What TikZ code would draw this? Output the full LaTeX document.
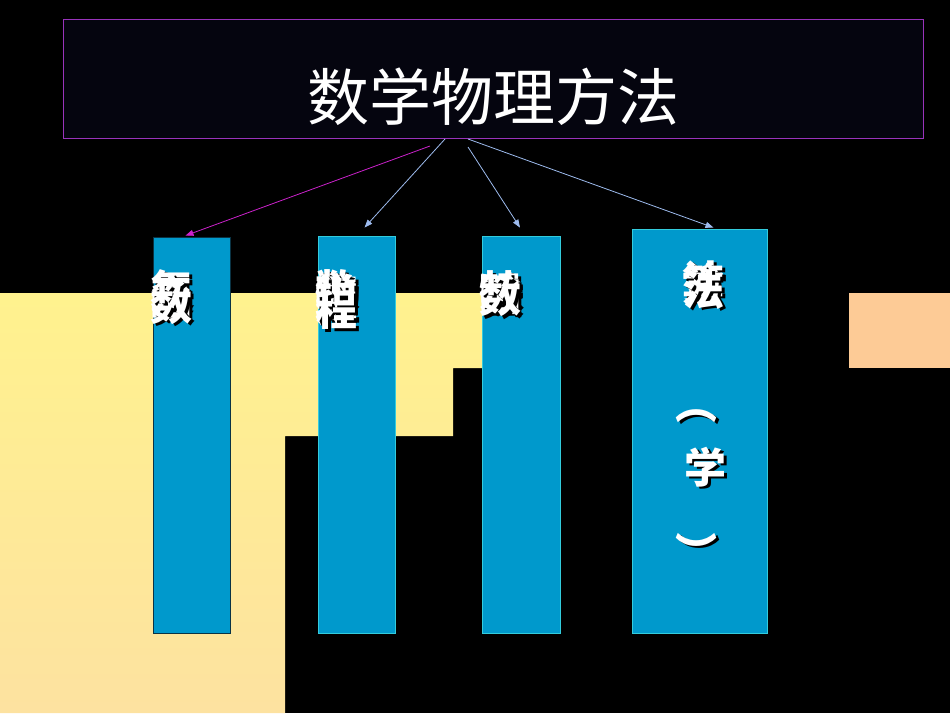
\documentclass[tikz,border=0pt]{standalone}
\usepackage{fontspec}
\newfontfamily\cjk{Noto Sans CJK SC}
\usetikzlibrary{arrows.meta,calc}
\definecolor{colblue}{HTML}{0099CC}
\definecolor{colcyan}{HTML}{33CCDD}
\definecolor{coldark}{HTML}{0A3344}
\definecolor{ylwA}{HTML}{FFF28E}
\definecolor{ylwB}{HTML}{FDE2A0}
\definecolor{peach}{HTML}{FDCB96}
\definecolor{boxfill}{HTML}{05050F}
\definecolor{boxline}{HTML}{9933BB}
\definecolor{arrmag}{HTML}{CC22CC}
\definecolor{arrblue}{HTML}{9DBBEE}
\newcommand\myshc[1]{\rlap{\kern3pt\raisebox{-2.5pt}{\textcolor{black}{#1}}}\textcolor{white}{#1}}
\newcommand\mytight{\lineskiplimit=-1000pt\relax\lineskip=0pt\relax}
\begin{document}
\begin{tikzpicture}[x=1pt,y=-1pt,
  colbox/.style={draw=colcyan,fill=colblue,line width=0.8pt,inner sep=0pt},
  stack/.style={inner sep=0pt,align=center,font=\cjk\bfseries\fontsize{42}{#1}\selectfont\mytight},
  stack/.default=5,
  conn/.style={line width=0.8pt,-{Triangle[length=8pt,width=6pt]}}]
\useasboundingbox (0,0) rectangle (950,713);
\fill[black] (0,0) rectangle (950,713);
\shade[top color=ylwA,bottom color=ylwB] (0,293) -- (482,293) -- (482,368) -- (453,368) -- (453,436) -- (285,436) -- (285,713) -- (0,713) -- cycle;
\fill[peach] (849,293) rectangle (950,368);
% title
\node[draw=boxline,fill=boxfill,line width=0.8pt,minimum width=860pt,minimum height=119pt,inner sep=0pt] (title) at (493,78.5) {};
\node[text=white,inner sep=0pt,font=\cjk\fontsize{62}{62}\selectfont] (titletext) at (493,97) {数学物理方法};
% columns
\node[colbox,draw=coldark,minimum width=77pt,minimum height=396pt] (c1) at (191.5,435) {};
\node[colbox,minimum width=77pt,minimum height=397pt] (c2) at (356.5,434.5) {};
\node[colbox,minimum width=78pt,minimum height=397pt] (c3) at (521,434.5) {};
\node[colbox,minimum width=135pt,minimum height=404pt] (c4) at (699.5,431) {};
% column texts (lines overprinted, as in the reference)
\node[stack=5] (ta) at (171,298) {\myshc{复}\\\myshc{变}\\\myshc{函}\\\myshc{数}};
\node[stack=4] (tb) at (336,301) {\myshc{数}\\\myshc{学}\\\myshc{物}\\\myshc{理}\\\myshc{方}\\\myshc{程}};
\node[stack=2] (tc) at (500,295) {\myshc{特}\\\myshc{殊}\\\myshc{函}\\\myshc{数}};
\node[stack=3] (td) at (703,286) {\myshc{计}\\\myshc{算}\\\myshc{方}\\\myshc{法}};
\node[stack] (tp1) at (696,417) {\myshc{︵}};
\node[stack] (tx) at (705,468) {\myshc{学}};
\node[stack] (tp2) at (696,552) {\myshc{︶}};
% connectors
\coordinate (s1) at (430,146);
\coordinate (s2) at (445,139);
\coordinate (s3) at (468,147);
\coordinate (s4) at (468,139);
\coordinate (e1) at ($(c1.north)+(-6,-1)$);
\coordinate (e2) at ($(c2.north)+(8,-8)$);
\coordinate (e3) at ($(c3.north)+(-1,-8)$);
\coordinate (e4) at ($(c4.north)+(14,-1)$);
\draw[conn,arrmag] (s1) -- (e1);
\draw[conn,arrblue] (s2) -- (e2);
\draw[conn,arrblue] (s3) -- (e3);
\draw[conn,arrblue] (s4) -- (e4);
\end{tikzpicture}
\end{document}
